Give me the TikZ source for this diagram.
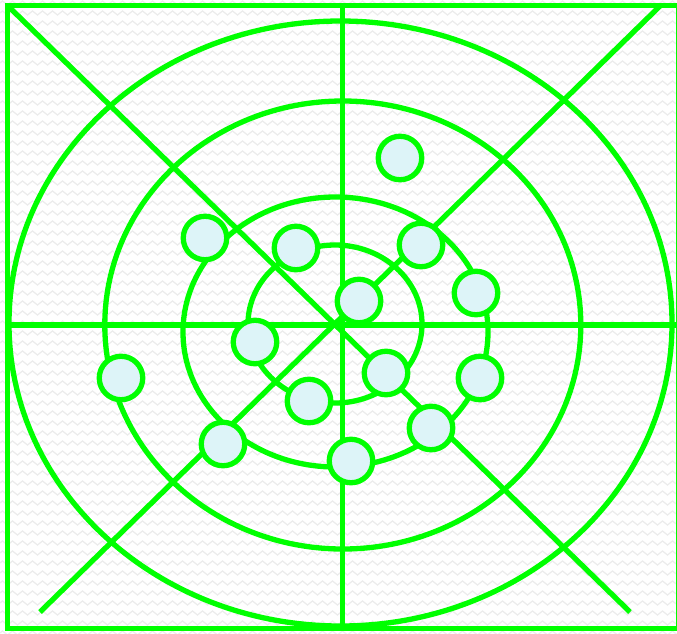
\documentclass[tikz,border=0pt]{standalone}
\usetikzlibrary{decorations.pathmorphing}
\definecolor{lgreen}{RGB}{0,255,0}
\definecolor{dotfill}{RGB}{221,244,248}
\definecolor{texgray}{RGB}{236,236,236}
\tikzset{
  gline/.style={draw=lgreen, line width=5.3pt},
  dot/.style={circle, draw=lgreen, line width=5.3pt, fill=dotfill, minimum size=43.5pt, inner sep=0pt},
  texture/.style={draw=texgray, line width=1.2pt, decorate, decoration={zigzag, segment length=10pt, amplitude=2pt}}
}
\begin{document}
\begin{tikzpicture}[x=1pt, y=-1pt]
\useasboundingbox (0,0) rectangle (677,633);
\fill[white] (0,0) rectangle (677,633);
% background texture
\foreach \r in {0,...,63} {
  \draw[texture] (0,{\r*10+3}) -- (680,{\r*10+3});
}
% frame
\coordinate (tl) at (7.5,5.5);
\coordinate (br) at (678.5,628.5);
\draw[gline] (tl) rectangle (br);
% diagonals
\coordinate (d1a) at (8,6);
\coordinate (d1b) at (630,612);
\coordinate (d2a) at (660,6);
\coordinate (d2b) at (40,612);
\draw[gline] (d1a) -- (d1b);
\draw[gline] (d2a) -- (d2b);
% axes
\coordinate (vt) at (342.5,5);
\coordinate (vb) at (342.5,628);
\coordinate (hl) at (7,325);
\coordinate (hr) at (677,325);
\draw[gline] (vt) -- (vb);
\draw[gline] (hl) -- (hr);
% ellipses
\coordinate (e1) at (340.5,323.5);
\coordinate (e2) at (342.8,325);
\coordinate (e3) at (335.5,332);
\coordinate (e4) at (335,324);
\draw[gline] (e1) ellipse [x radius=331.5, y radius=302.5];
\draw[gline] (e2) ellipse [x radius=238, y radius=224];
\draw[gline] (e3) ellipse [x radius=152.5, y radius=135];
\draw[gline] (e4) ellipse [x radius=87, y radius=79];
% circles
\node[dot] (c1) at (400,158) {};
\node[dot] (c2) at (205,238) {};
\node[dot] (c3) at (296,248) {};
\node[dot] (c4) at (421,245) {};
\node[dot] (c5) at (476,293) {};
\node[dot] (c6) at (359,301) {};
\node[dot] (c7) at (255,342) {};
\node[dot] (c8) at (121,378) {};
\node[dot] (c9) at (386,373) {};
\node[dot] (c10) at (480,378) {};
\node[dot] (c11) at (309,401) {};
\node[dot] (c12) at (431,428) {};
\node[dot] (c13) at (223,444) {};
\node[dot] (c14) at (351,461) {};
\end{tikzpicture}
\end{document}
